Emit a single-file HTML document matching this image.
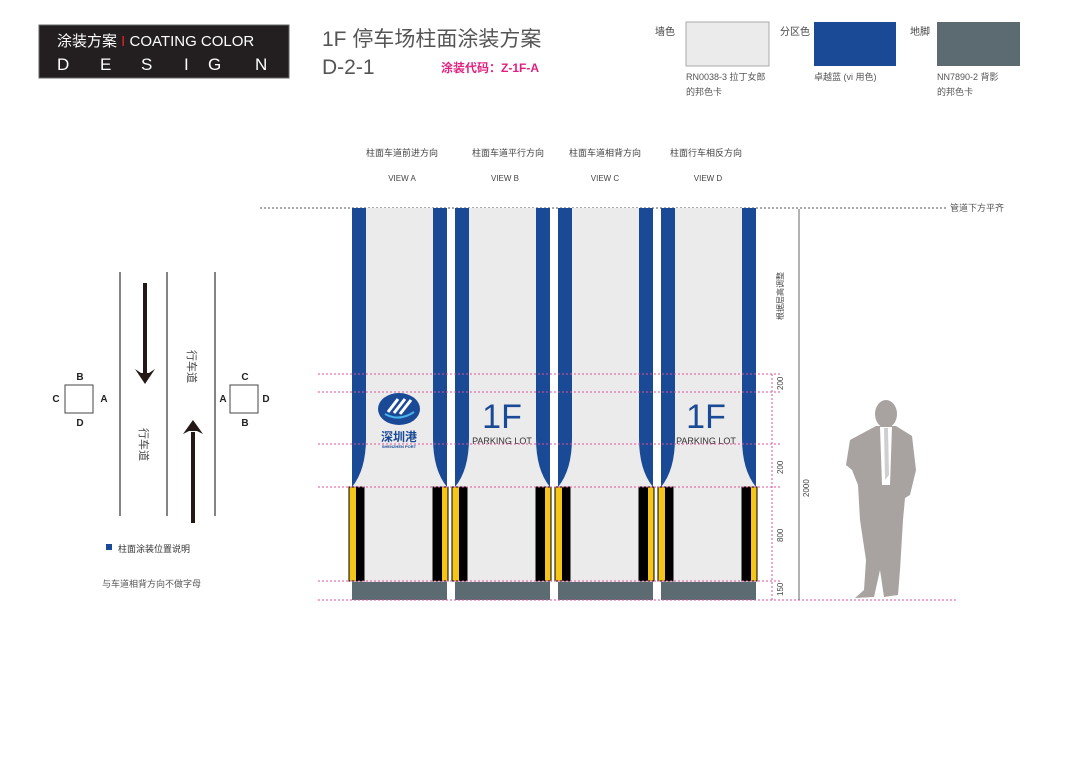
<!DOCTYPE html>
<html><head><meta charset="utf-8"><style>
body{margin:0;background:#fff;}
svg{display:block;font-family:"Liberation Sans","Noto Sans CJK SC",sans-serif;}
</style></head><body>
<svg width="1080" height="764" viewBox="0 0 1080 764" xmlns="http://www.w3.org/2000/svg">
<rect x="39" y="25" width="250" height="53" fill="#231f20" stroke="#666" stroke-width="1"/>
<text x="57" y="46" font-size="15" fill="#fff">涂装方案 <tspan fill="#e0202a">I</tspan> COATING COLOR</text>
<text x="57" y="70" font-size="17" fill="#fff">D</text>
<text x="100" y="70" font-size="17" fill="#fff">E</text>
<text x="141" y="70" font-size="17" fill="#fff">S</text>
<text x="184" y="70" font-size="17" fill="#fff">I</text>
<text x="208" y="70" font-size="17" fill="#fff">G</text>
<text x="255" y="70" font-size="17" fill="#fff">N</text>
<text x="322" y="46" font-size="21" fill="#555">1F 停车场柱面涂装方案</text>
<text x="322" y="74" font-size="21" fill="#555">D-2-1</text>
<text x="441" y="72" font-size="12" fill="#e0207f" font-weight="bold">涂装代码：Z-1F-A</text>
<text x="655" y="35" font-size="10" fill="#444">墙色</text>
<rect x="686" y="22" width="83" height="44" fill="#ebebeb" stroke="#aaa"/>
<text x="686" y="80" font-size="9" fill="#555">RN0038-3 拉丁女郎</text>
<text x="686" y="95" font-size="9" fill="#555">的邦色卡</text>
<text x="780" y="35" font-size="10" fill="#444">分区色</text>
<rect x="814" y="22" width="82" height="44" fill="#1a4a96"/>
<text x="814" y="80" font-size="9" fill="#555">卓越蓝 (vi 用色)</text>
<text x="910" y="35" font-size="10" fill="#444">地脚</text>
<rect x="937" y="22" width="83" height="44" fill="#5c6b72"/>
<text x="937" y="80" font-size="9" fill="#555">NN7890-2 背影</text>
<text x="937" y="95" font-size="9" fill="#555">的邦色卡</text>
<g font-size="9" fill="#444" text-anchor="middle">
<text x="402" y="156">柱面车道前进方向</text><text x="402" y="181" font-size="8">VIEW A</text>
<text x="508" y="156">柱面车道平行方向</text><text x="505" y="181" font-size="8">VIEW B</text>
<text x="605" y="156">柱面车道相背方向</text><text x="605" y="181" font-size="8">VIEW C</text>
<text x="706" y="156">柱面行车相反方向</text><text x="708" y="181" font-size="8">VIEW D</text>
</g>
<line x1="260" y1="208" x2="946" y2="208" stroke="#555" stroke-dasharray="2,2" stroke-width="1"/>
<text x="950" y="211" font-size="9" fill="#555">管道下方平齐</text>
<defs>
<g id="col">
<rect x="0" y="0" width="95" height="392" fill="#ebebeb"/>
<path d="M0 0 H14 V230 Q14 262 0 279 Z" fill="#1a4a96"/>
<path d="M95 0 H81 V230 Q81 262 95 279 Z" fill="#1a4a96"/>
<rect x="-3" y="279" width="7" height="94" fill="#f5c518"/>
<rect x="4" y="279" width="8" height="94" fill="#000"/>
<rect x="-3" y="279" width="15" height="94" fill="none" stroke="#000" stroke-width="1"/>
<rect x="81" y="279" width="9" height="94" fill="#000"/>
<rect x="90" y="279" width="6" height="94" fill="#f5c518"/>
<rect x="81" y="279" width="15" height="94" fill="none" stroke="#000" stroke-width="1"/>
<rect x="0" y="374" width="95" height="18" fill="#5c6b72"/>
</g>
</defs>
<use href="#col" x="352" y="208"/>
<use href="#col" x="455" y="208"/>
<use href="#col" x="558" y="208"/>
<use href="#col" x="661" y="208"/>
<ellipse cx="399" cy="409" rx="21" ry="16" fill="#1a4a96"/>
<path d="M385 414 Q399 422 414 412" stroke="#4ab0e8" stroke-width="2" fill="none"/>
<path d="M388 412 L398 399 M394 413 L405 399 M400 414 L411 400" stroke="#fff" stroke-width="3"/>
<text x="399" y="441" font-size="12" fill="#1a4a96" text-anchor="middle" font-weight="bold">深圳港</text>
<text x="399" y="448" font-size="4" fill="#1a4a96" text-anchor="middle" font-weight="bold">SHENZHEN PORT</text>
<g fill="#1a4a96" text-anchor="middle">
<text x="502" y="428" font-size="34">1F</text>
<text x="502" y="444" font-size="9" fill="#333">PARKING LOT</text>
<text x="706" y="428" font-size="34">1F</text>
<text x="706" y="444" font-size="9" fill="#333">PARKING LOT</text>
</g>
<g stroke="#e0509a" stroke-dasharray="2,2" stroke-width="1">
<line x1="318" y1="374" x2="780" y2="374"/>
<line x1="318" y1="392" x2="780" y2="392"/>
<line x1="318" y1="444" x2="780" y2="444"/>
<line x1="318" y1="487" x2="780" y2="487"/>
<line x1="318" y1="581" x2="780" y2="581"/>
<line x1="318" y1="600" x2="958" y2="600"/>
<line x1="772" y1="374" x2="772" y2="600"/>
</g>
<line x1="799" y1="209" x2="799" y2="600" stroke="#666" stroke-width="1"/>
<g font-size="8" fill="#444">
<text transform="translate(783,320) rotate(-90)">根据层高调整</text>
<text transform="translate(783,390) rotate(-90)">200</text>
<text transform="translate(783,474) rotate(-90)">200</text>
<text transform="translate(783,542) rotate(-90)">800</text>
<text transform="translate(783,596) rotate(-90)">150</text>
<text transform="translate(809,497) rotate(-90)">2000</text>
</g>
<g fill="#a8a3a0">
<ellipse cx="886" cy="414" rx="11" ry="14"/>
<path d="M876 426 L896 426 L912 436 L916 470 L910 495 L905 498 L903 520 L900 570 L898 595 L884 597 L880 570 L874 597 L855 598 L864 590 L866 560 L860 520 L858 485 L852 470 L846 465 L850 440 Z"/>
</g>
<path d="M880 427 L892 427 L890 485 L882 485 Z" fill="#fff"/>
<path d="M884 428 L888 428 L889 475 L885 480 Z" fill="#d0cfcf"/>
<g stroke="#333" stroke-width="1.2">
<line x1="120" y1="272" x2="120" y2="516"/>
<line x1="167" y1="272" x2="167" y2="516"/>
<line x1="215" y1="272" x2="215" y2="516"/>
</g>
<rect x="143" y="283" width="4" height="90" fill="#231815"/>
<path d="M135 369 L145 384 L155 369 L149 373 L141 373 Z" fill="#231815"/>
<rect x="191" y="432" width="4" height="91" fill="#231815"/>
<path d="M183 434 L193 420 L203 434 L197 431 L189 431 Z" fill="#231815"/>
<rect x="65" y="385" width="28" height="28" fill="#fff" stroke="#444"/>
<rect x="230" y="385" width="28" height="28" fill="#fff" stroke="#444"/>
<g font-size="10" fill="#222" font-weight="bold" text-anchor="middle">
<text x="80" y="380">B</text><text x="80" y="426">D</text><text x="56" y="402">C</text><text x="104" y="402">A</text>
<text x="245" y="380">C</text><text x="245" y="426">B</text><text x="223" y="402">A</text><text x="266" y="402">D</text>
</g>
<g font-size="11" fill="#444">
<text transform="translate(188,350) rotate(90)">行车道</text>
<text transform="translate(140,428) rotate(90)">行车道</text>
</g>
<rect x="106" y="544" width="6" height="6" fill="#1a4a96"/>
<text x="118" y="552" font-size="9" fill="#333">柱面涂装位置说明</text>
<text x="102" y="587" font-size="9" fill="#555">与车道相背方向不做字母</text>
</svg>
</body></html>
